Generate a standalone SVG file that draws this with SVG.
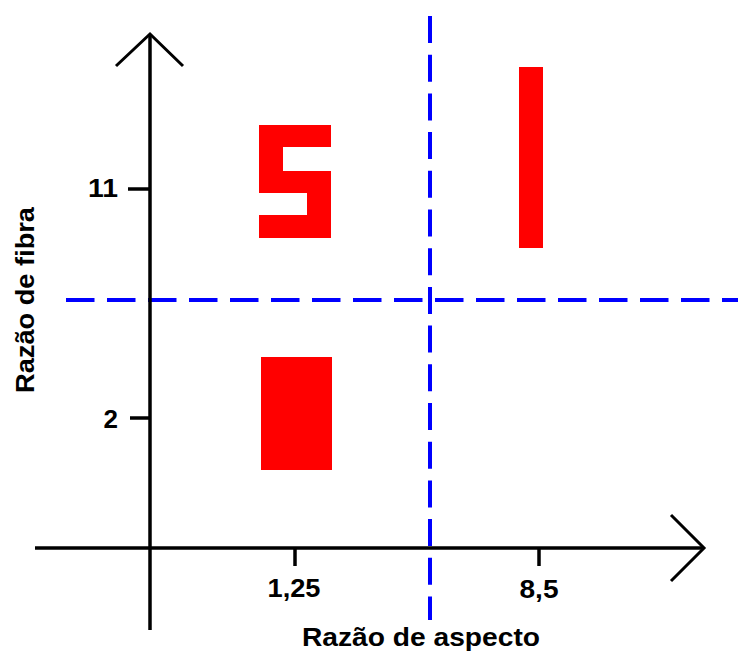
<svg xmlns="http://www.w3.org/2000/svg" width="738" height="652" viewBox="0 0 738 652">
<style>
.ax{stroke:#000;stroke-width:3.5;fill:none}
.hd{stroke:#000;stroke-width:3;fill:none}
.dash{stroke:#0000ff;stroke-width:4;fill:none}
.lbl{font-family:"Liberation Sans",Arial,sans-serif;font-weight:bold;font-size:26px;fill:#000}
.shape{fill:#ff0000}
</style>
<rect width="738" height="652" fill="#fff"/>
<g id="dividers">
<line class="dash" x1="430" y1="16" x2="430" y2="620" stroke-dasharray="27 11.7"/>
<line class="dash" x1="66" y1="300" x2="738" y2="300" stroke-dasharray="28.5 12.5"/>
</g>
<g id="connectors">
<line class="ax" x1="150" y1="34" x2="150" y2="630"/>
<polyline class="hd" points="116,66 150,34 183,66"/>
<line class="ax" x1="35" y1="548" x2="704" y2="548"/>
<polyline class="hd" points="671,515 704,548 671,581"/>
<line class="ax" x1="128" y1="189" x2="150" y2="189"/>
<line class="ax" x1="130" y1="418" x2="150" y2="418"/>
<line class="ax" x1="295" y1="548" x2="295" y2="566"/>
<line class="ax" x1="539" y1="548" x2="539" y2="566"/>
</g>
<g id="labels">
<text class="lbl" x="118" y="197" text-anchor="end" textLength="30" lengthAdjust="spacingAndGlyphs">11</text>
<text class="lbl" x="118" y="428" text-anchor="end">2</text>
<text class="lbl" x="294" y="597" text-anchor="middle" textLength="53" lengthAdjust="spacingAndGlyphs">1,25</text>
<text class="lbl" x="539" y="598" text-anchor="middle" textLength="39" lengthAdjust="spacingAndGlyphs">8,5</text>
<text class="lbl" x="421" y="646" text-anchor="middle" textLength="238" lengthAdjust="spacingAndGlyphs">Razão de aspecto</text>
<text class="lbl" x="34" y="300" text-anchor="middle" transform="rotate(-90 34 300)" textLength="186" lengthAdjust="spacingAndGlyphs">Razão de fibra</text>
</g>
<g id="node-s">
<polygon class="shape" points="259,125 331,125 331,147 283,147 283,171 331,171 331,238 259,238 259,215 307,215 307,193 259,193"/>
</g>
<g id="node-i">
<rect class="shape" x="519" y="67" width="24" height="181"/>
</g>
<g id="node-block">
<rect class="shape" x="261" y="357" width="71" height="113"/>
</g>
</svg>
